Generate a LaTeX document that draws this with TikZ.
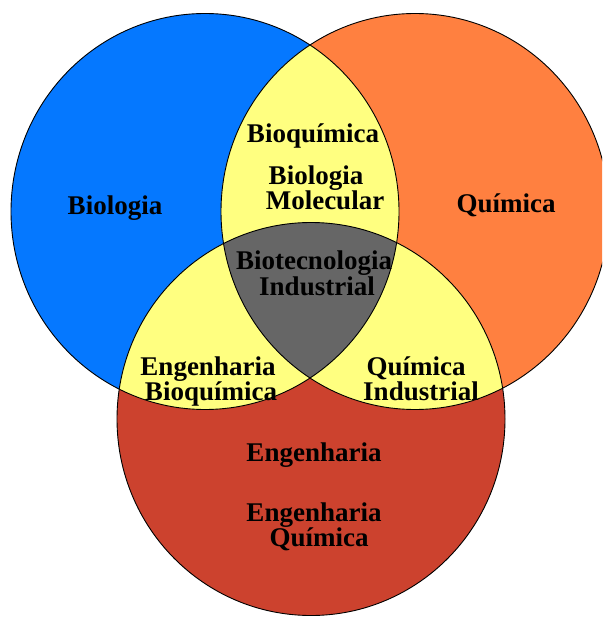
\documentclass[tikz,border=0pt]{standalone}
\usepackage{fontspec}
\setmainfont{Liberation Serif}
\definecolor{bioblue}{RGB}{5,120,255}
\definecolor{quiorange}{RGB}{255,128,64}
\definecolor{engred}{RGB}{204,66,46}
\definecolor{mixyellow}{RGB}{255,255,128}
\definecolor{coregrey}{RGB}{102,102,102}
\begin{document}
\begin{tikzpicture}[x=1pt,y=-1pt,
  lbl/.style={font=\fontsize{27}{24}\selectfont\bfseries, inner sep=0pt, anchor=base},
  ring/.style={draw=black, line width=0.9pt}]
\useasboundingbox (0,0) rectangle (602,617);
\clip (0,0) rectangle (602,617);
\def\cB{(205,211.5) ellipse[x radius=194, y radius=198]}
\def\cO{(415,211.5) ellipse[x radius=194, y radius=198]}
\def\cR{(311,419) ellipse[x radius=194, y radius=196.5]}
% single regions
\fill[bioblue] \cB;
\fill[quiorange] \cO;
\fill[engred] \cR;
% pairwise overlaps
\begin{scope}\clip \cB; \fill[mixyellow] \cO; \fill[mixyellow] \cR; \end{scope}
\begin{scope}\clip \cO; \fill[mixyellow] \cR; \end{scope}
% triple overlap
\begin{scope}\clip \cB; \clip \cO; \fill[coregrey] \cR; \end{scope}
% outlines
\path[ring] \cB;
\path[ring] \cO;
\path[ring] \cR;
% labels
\node[lbl] (bio) at (115,215) {Biologia};
\node[lbl] (qui) at (506,213) {Química};
\node[lbl] (bioq) at (313,143) {Bioquímica};
\node[lbl] (biom1) at (316,185) {Biologia};
\node[lbl] (biom2) at (325,210) {Molecular};
\node[lbl] (biot1) at (314,269) {Biotecnologia};
\node[lbl] (biot2) at (317,295) {Industrial};
\node[lbl] (engb1) at (208,375) {Engenharia};
\node[lbl] (engb2) at (211,400) {Bioquímica};
\node[lbl] (quii1) at (416,375) {Química};
\node[lbl] (quii2) at (421,400) {Industrial};
\node[lbl] (eng) at (314,461) {Engenharia};
\node[lbl] (engq1) at (314,521) {Engenharia};
\node[lbl] (engq2) at (319,546) {Química};
\end{tikzpicture}
\end{document}
